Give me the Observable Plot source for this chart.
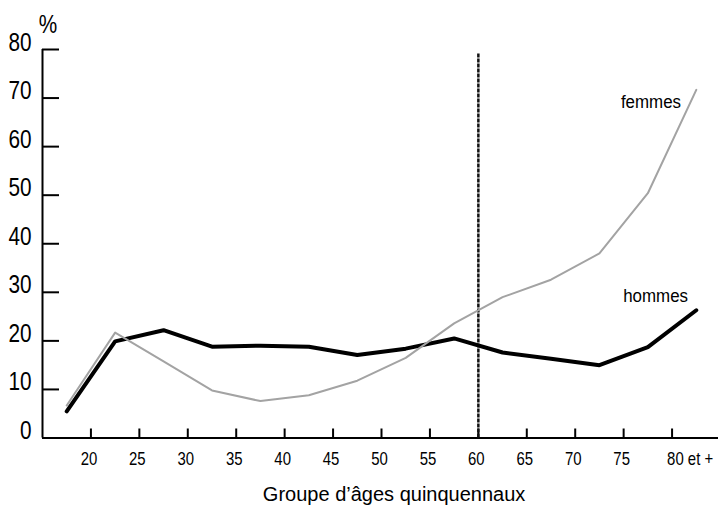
<!DOCTYPE html>
<html>
<head>
<meta charset="utf-8">
<script src="https://cdn.jsdelivr.net/npm/d3@7"></script>
<script src="https://cdn.jsdelivr.net/npm/@observablehq/plot@0.6"></script>
<style>
  html, body { margin: 0; padding: 0; background: #fff; }
  svg { font-family: "Liberation Sans", Arial, sans-serif; overflow: visible; }
</style>
</head>
<body>
<div id="chart"></div>
<script>
// Age groups (mid-points of the five-year groups 15-19 ... 80+)
const ageMid = [17.5, 22.5, 27.5, 32.5, 37.5, 42.5, 47.5, 52.5, 57.5, 62.5, 67.5, 72.5, 77.5, 82.5];
const hommes = [5.5, 19.9, 22.2, 18.8, 19.0, 18.8, 17.1, 18.4, 20.5, 17.6, 16.3, 15.0, 18.7, 26.3];
const femmes = [6.7, 21.7, 15.8, 9.8, 7.6, 8.8, 11.8, 16.5, 23.6, 29.0, 32.6, 38.0, 50.4, 71.7];
const xTicks = [20, 25, 30, 35, 40, 45, 50, 55, 60, 65, 70, 75];
const xTickLast = [80];
const xTickLastLabel = "80 et +";
const yTicks = [0, 10, 20, 30, 40, 50, 60, 70, 80];
const retirementAge = [60];
const xTitle = "Groupe d’âges quinquennaux";
const yUnit = "%";
const seriesLabels = ["femmes", "hommes"];

const hData = ageMid.map((a, i) => ({age: a, v: hommes[i]}));
const fData = ageMid.map((a, i) => ({age: a, v: femmes[i]}));

const chart = Plot.plot({
  width: 718,
  height: 505,
  marginLeft: 42,
  marginRight: 0,
  marginTop: 49,
  marginBottom: 67.5,
  x: {domain: [15, 85], range: [42, 720], axis: null},
  y: {domain: [0, 80], range: [437.5, 49], axis: null},
  marks: [
    // axes lines
    Plot.ruleX([15], {y1: 0, y2: 80, stroke: "#000", strokeWidth: 2}),
    Plot.ruleY([0], {x1: 15, x2: 85, stroke: "#000", strokeWidth: 2}),
    // y ticks (inward)
    Plot.ruleY(yTicks.filter(d => d > 0), {y: d => d, x1: 15, x2: 15, insetRight: -17, stroke: "#000", strokeWidth: 2}),
    // x ticks (inward)
    Plot.ruleX(xTicks.concat(xTickLast), {x: d => d, y1: 0, y2: 0, insetBottom: 9, stroke: "#000", strokeWidth: 2}),
    // y tick labels
    Plot.text(yTicks, {x: 15, y: d => d, text: d => String(d), textAnchor: "end", dx: -11, dy: -7, fontSize: 25, fill: "#000"}),
    Plot.text([yUnit], {x: 15, y: 80, text: d => d, dx: 5.5, dy: -25, fontSize: 25, fill: "#000"}),
    // x tick labels
    Plot.text(xTicks, {x: d => d, y: 0, text: d => String(d), dx: -2, dy: 21, fontSize: 18, fill: "#000"}),
    Plot.text(xTickLast, {x: d => d, y: 0, text: () => xTickLastLabel, textAnchor: "start", dx: -5, dy: 21, fontSize: 18, fill: "#000"}),
    // x title
    Plot.text([xTitle], {x: 51.3, y: 0, text: d => d, dy: 57, fontSize: 20, fill: "#000"}),
    // retirement age line
    Plot.ruleX(retirementAge, {x: d => d, y1: 0, y2: 79.2, stroke: "#111", strokeWidth: 2.5, strokeDasharray: "4,1"}),
    // series
    Plot.line(hData, {x: "age", y: "v", stroke: "#000", strokeWidth: 4, strokeLinejoin: "miter"}),
    Plot.line(fData, {x: "age", y: "v", stroke: "#a3a3a3", strokeWidth: 2}),
    // series labels
    Plot.text([seriesLabels[0]], {x: 77.82, y: 69.3, text: d => d, fontSize: 19, fill: "#000"}),
    Plot.text([seriesLabels[1]], {x: 78.3, y: 29.3, text: d => d, fontSize: 19, fill: "#000"})
  ]
});

document.getElementById("chart").appendChild(chart);

// condense tick labels horizontally (narrow typeface in the original)
const cond83 = new Set([...yTicks.map(String), ...xTicks.map(String), xTickLastLabel, yUnit]);
const cond89 = new Set(seriesLabels);
chart.querySelectorAll("text").forEach(t => {
  const s = t.textContent;
  const k = cond83.has(s) ? 0.83 : cond89.has(s) ? 0.89 : null;
  if (k == null) return;
  const x = +(t.getAttribute("x") || 0);
  const tr = t.getAttribute("transform") || "";
  t.setAttribute("transform", `${tr} translate(${x},0) scale(${k},1) translate(${-x},0)`);
});
</script>
</body>
</html>
